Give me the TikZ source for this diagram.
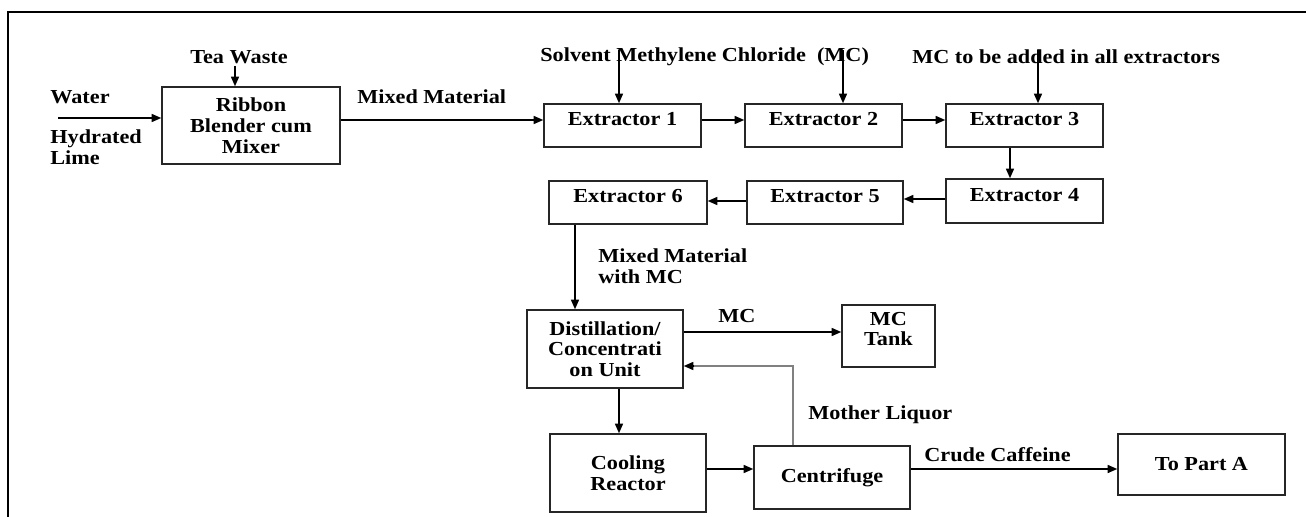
\documentclass[tikz,border=0pt]{standalone}
\usepackage{fontspec}
\setmainfont{Liberation Serif}[FakeStretch=1.12]
\usetikzlibrary{arrows.meta}
\begin{document}
\begin{tikzpicture}[x=0.02cm,y=-0.02cm,
  every node/.style={font=\fontsize{11.3pt}{11.8pt}\selectfont\bfseries},
  box/.style={draw=black!85,line width=0.9pt,inner sep=0pt,align=center},
  ext/.style={box,minimum width=3.14cm,minimum height=0.86cm,text height=7.5pt,text depth=7.5pt},
  lbl/.style={inner sep=0pt},
  arr/.style={line width=0.8pt,-{Triangle[length=1.9mm,width=1.6mm]}},
  frame/.style={line width=1.7pt}]
\useasboundingbox (0,0) rectangle (1306,517);
\draw[frame] (8,517) -- (8,12) -- (1306,12);

% boxes
\node[box,minimum width=3.56cm,minimum height=1.54cm] (rb) at (251,125.5) {Ribbon\\Blender cum\\Mixer};
\node[ext] (e1) at (622.5,125.5) {Extractor 1};
\node[ext] (e2) at (823.5,125.5) {Extractor 2};
\node[ext] (e3) at (1024.5,125.5) {Extractor 3};
\node[ext,minimum height=0.88cm] (e4) at (1024.5,201) {Extractor 4};
\node[ext,minimum width=3.12cm] (e5) at (825,202.5) {Extractor 5};
\node[ext,minimum width=3.16cm] (e6) at (628,202.5) {Extractor 6};
\node[box,minimum width=3.12cm,minimum height=1.56cm] (dist) at (605,349) {Distillation/\\Concentrati\\on Unit};
\node[box,minimum width=1.86cm,minimum height=1.24cm,text depth=8pt] (tank) at (888.5,336) {MC\\Tank};
\node[box,minimum width=3.12cm,minimum height=1.56cm] (cool) at (628,473) {Cooling\\Reactor};
\node[box,minimum width=3.12cm,minimum height=1.26cm] (cent) at (832,477.5) {Centrifuge};
\node[box,minimum width=3.34cm,minimum height=1.22cm] (topa) at (1201.5,464.5) {To Part A};

% labels
\node[lbl,anchor=west] (water) at (50,97) {Water};
\node[lbl,anchor=west,align=left] (lime) at (50,147) {Hydrated\\Lime};
\node[lbl] (tea) at (239,57) {Tea Waste};
\node[lbl,anchor=west] (mm) at (357,97) {Mixed Material};
\node[lbl,anchor=west] (solv) at (540,57) {Solvent Methylene Chloride\ \ (MC)};
\node[lbl,anchor=west] (all) at (912,57) {MC to be added in all extractors};
\node[lbl,anchor=west,align=left] (mmmc) at (598,266) {Mixed Material\\with MC};
\node[lbl] (mc) at (737,316) {MC};
\node[lbl,anchor=west] (ml) at (808,415) {Mother Liquor};
\node[lbl,anchor=west] (cc) at (924,455) {Crude Caffeine};

% helper coordinates
\coordinate (win) at (58,118);
\coordinate (tw) at (235,66);
\coordinate (s1) at (619,50);
\coordinate (s2) at (843,50);
\coordinate (s3) at (1038,50);
\coordinate (yrow) at (0,120);
\coordinate (mlc) at (793,366);

% connectors
\draw[arr] (win) -- (win -| rb.west);
\draw[arr] (tw) -- (tw |- rb.north);
\draw[arr] (rb.east |- yrow) -- (e1.west |- yrow);
\draw[arr] (e1.east |- yrow) -- (e2.west |- yrow);
\draw[arr] (e2.east |- yrow) -- (e3.west |- yrow);
\draw[arr] (s1) -- (s1 |- e1.north);
\draw[arr] (s2) -- (s2 |- e2.north);
\draw[arr] (s3) -- (s3 |- e3.north);
\draw[arr] (1010,0 |- e3.south) -- (1010,0 |- e4.north);
\draw[arr] (e4.west |- 0,199) -- (e5.east |- 0,199);
\draw[arr] (e5.west |- 0,201) -- (e6.east |- 0,201);
\draw[arr] (575,0 |- e6.south) -- (575,0 |- dist.north);
\draw[arr] (dist.east |- 0,332) -- (tank.west |- 0,332);
\draw[arr] (619,0 |- dist.south) -- (619,0 |- cool.north);
\draw[arr] (cool.east |- 0,469) -- (cent.west |- 0,469);
\draw[arr] (cent.east |- 0,469) -- (topa.west |- 0,469);
\draw[line width=1.2pt,draw=black!50] (mlc |- cent.north) -- (mlc) -- ([xshift=6pt]mlc -| dist.east);
\draw[arr] ([xshift=6pt]mlc -| dist.east) -- (mlc -| dist.east);
\end{tikzpicture}
\end{document}
